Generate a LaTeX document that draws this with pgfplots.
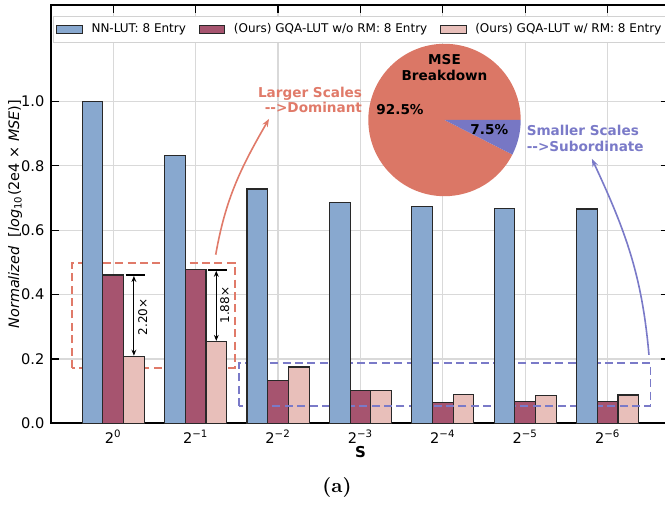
\documentclass[border=0pt]{standalone}
\usepackage{fontspec}
\usepackage{pgfplots}
\usepackage{pgfplotstable}
\pgfplotsset{compat=1.18}
\usetikzlibrary{arrows.meta}
\newfontfamily\dv{DejaVu Sans}

\definecolor{blueBar}{RGB}{136,168,207}
\definecolor{redBar}{RGB}{166,84,111}
\definecolor{pinkBar}{RGB}{232,191,186}
\definecolor{edge}{RGB}{40,40,40}
\definecolor{pieRed}{RGB}{219,119,102}
\definecolor{pieBlue}{RGB}{119,119,196}
\definecolor{coral}{RGB}{224,122,105}
\definecolor{lav}{RGB}{122,122,200}

\pgfplotstableread{
x nn wo w
0 1.000 0.461 0.207
1 0.832 0.477 0.253
2 0.728 0.134 0.175
3 0.687 0.101 0.101
4 0.674 0.065 0.090
5 0.668 0.068 0.087
6 0.666 0.067 0.088
}\mse

\pgfplotstableread{
part share
large 92.5
small 7.5
}\piedata

\pgfplotsset{
  mybar/.style={ybar, bar width=10.35pt, draw=edge, line width=0.55pt,
    legend image code/.code={\draw[##1] (0pt,-2.1pt) rectangle (12.85pt,2.1pt);}},
}

\begin{document}
\begin{tikzpicture}
\begin{axis}[
  at={(0pt,0pt)}, anchor=south west,
  scale only axis, width=309pt, height=209.15pt,
  xmin=-0.75, xmax=6.75, ymin=0, ymax=1.3,
  xtick={0,1,2,3,4,5,6},
  xticklabels={2\textsuperscript{0},2\textsuperscript{−1},2\textsuperscript{−2},2\textsuperscript{−3},2\textsuperscript{−4},2\textsuperscript{−5},2\textsuperscript{−6}},
  ytick={0,0.2,0.4,0.6,0.8,1.0},
  font=\dv,
  tick label style={font=\dv\fontsize{7.3}{8}\selectfont},
  yticklabel style={/pgf/number format/.cd,fixed,fixed zerofill,precision=1,assume math mode=true},
  tick align=inside, major tick length=4pt,
  tick style={black, line width=0.6pt},
  axis line style={line width=1pt},
  grid=major, major grid style={gray!30, line width=0.6pt},
  xlabel={\bfseries S},
  xlabel style={font=\dv\fontsize{7.5}{8}\selectfont, at={(axis description cs:0.5,0)}, anchor=center, yshift=-14.4pt},
  ylabel={\textit{Normalized}~~[\textit{log}\textsubscript{10}(2e4 × \textit{MSE})]},
  ylabel style={font=\dv\fontsize{7.2}{8}\selectfont, at={(axis description cs:-0.059,0.5)}, anchor=center},
  legend style={at={(0.002,0.974)}, anchor=north west, legend columns=-1,
    draw=gray!35, fill=white, font=\dv\fontsize{6}{7}\selectfont, inner sep=1.5pt,
    /tikz/every odd column/.append style={column sep=2.3pt},
    /tikz/every even column/.append style={column sep=4.3pt}},
  clip=false,
]
% coral box sits behind the bars
\draw[coral, line width=0.9pt, dash pattern=on 4pt off 2.2pt] (axis cs:-0.505,0.172) rectangle (axis cs:1.474,0.499);

\addplot[mybar, fill=blueBar, bar shift=-10.35pt] table[x=x,y=nn]{\mse};
\addplot[mybar, fill=redBar, bar shift=0pt] table[x=x,y=wo]{\mse};
\addplot[mybar, fill=pinkBar, bar shift=10.35pt] table[x=x,y=w]{\mse};
\legend{NN-LUT: 8 Entry,(Ours) GQA-LUT w/o RM: 8 Entry,(Ours) GQA-LUT w/ RM: 8 Entry}

% lavender box over the small bars, under the blue ones
\draw[lav, line width=0.9pt, dash pattern=on 4pt off 2.2pt] (axis cs:1.525,0.054) rectangle (axis cs:6.52,0.188);
\addplot[mybar, fill=blueBar, bar shift=-10.35pt, forget plot] table[x=x,y=nn]{\mse};

% ratio markers
\draw[black, line width=0.8pt] (axis cs:0.15,0.461) -- (axis cs:0.38,0.461);
\draw[black, line width=0.6pt, {Stealth[length=3pt,width=2.4pt]}-{Stealth[length=3pt,width=2.4pt]}] (axis cs:0.25,0.458) -- (axis cs:0.25,0.210);
\node[rotate=90, font=\dv\fontsize{6}{7}\selectfont, inner sep=0pt] at (axis cs:0.357,0.331) {2.20×};
\draw[black, line width=0.8pt] (axis cs:1.146,0.477) -- (axis cs:1.376,0.477);
\draw[black, line width=0.6pt, {Stealth[length=3pt,width=2.4pt]}-{Stealth[length=3pt,width=2.4pt]}] (axis cs:1.25,0.474) -- (axis cs:1.25,0.256);
\node[rotate=90, font=\dv\fontsize{6}{7}\selectfont, inner sep=0pt] at (axis cs:1.352,0.367) {1.88×};

% callouts
\draw[coral, line width=0.8pt, -{Stealth[length=4pt,width=3pt]}] (axis cs:1.243,0.524) to[out=80,in=240] (axis cs:1.890,0.946);
\draw[lav, line width=0.8pt, -{Stealth[length=4pt,width=3pt]}] (axis cs:6.501,0.2126) to[out=95,in=-65] (axis cs:5.809,0.8217);
\node[coral, align=right, anchor=east, inner sep=0pt, font=\dv\bfseries\fontsize{6.8}{7.85}\selectfont] at (axis cs:3.023,1.005) {Larger Scales\\-->Dominant};
\node[lav, align=left, anchor=west, inner sep=0pt, font=\dv\bfseries\fontsize{6.8}{7.85}\selectfont] at (axis cs:5.013,0.8853) {Smaller Scales\\-->Subordinate};
\end{axis}

% pie inset
\begin{axis}[
  at={(196.5pt,151.65pt)}, anchor=center,
  scale only axis, width=76.2pt, height=76.2pt,
  xmin=-1, xmax=1, ymin=-1, ymax=1,
  hide axis, clip=false,
]
\pgfplotstablegetelem{1}{share}\of\piedata
\pgfmathsetmacro{\smallang}{3.6*\pgfplotsretval}
\fill[pieRed] (axis cs:0,0) -- ++(0:38.1pt) arc[start angle=0, end angle={360-\smallang}, radius=38.1pt] -- cycle;
\fill[pieBlue] (axis cs:0,0) -- ++(-\smallang:38.1pt) arc[start angle=-\smallang, end angle=0, radius=38.1pt] -- cycle;
\node[align=center, inner sep=0pt, font=\dv\bfseries\fontsize{6.8}{7.6}\selectfont] at (axis cs:0,0.689) {MSE\\Breakdown};
\node[inner sep=0pt, font=\dv\bfseries\fontsize{6.8}{8}\selectfont] at (axis cs:-0.584,0.140) {92.5\%};
\node[inner sep=0pt, font=\dv\bfseries\fontsize{6.8}{8}\selectfont] at (axis cs:0.588,-0.131) {7.5\%};
\end{axis}

\node[font=\bfseries\fontsize{10}{12}\selectfont] at (142.75pt,-32.35pt) {(a)};

\pgfresetboundingbox
\useasboundingbox (-25.75pt,-41.35pt) rectangle (306.75pt,211.65pt);
\end{tikzpicture}
\end{document}
